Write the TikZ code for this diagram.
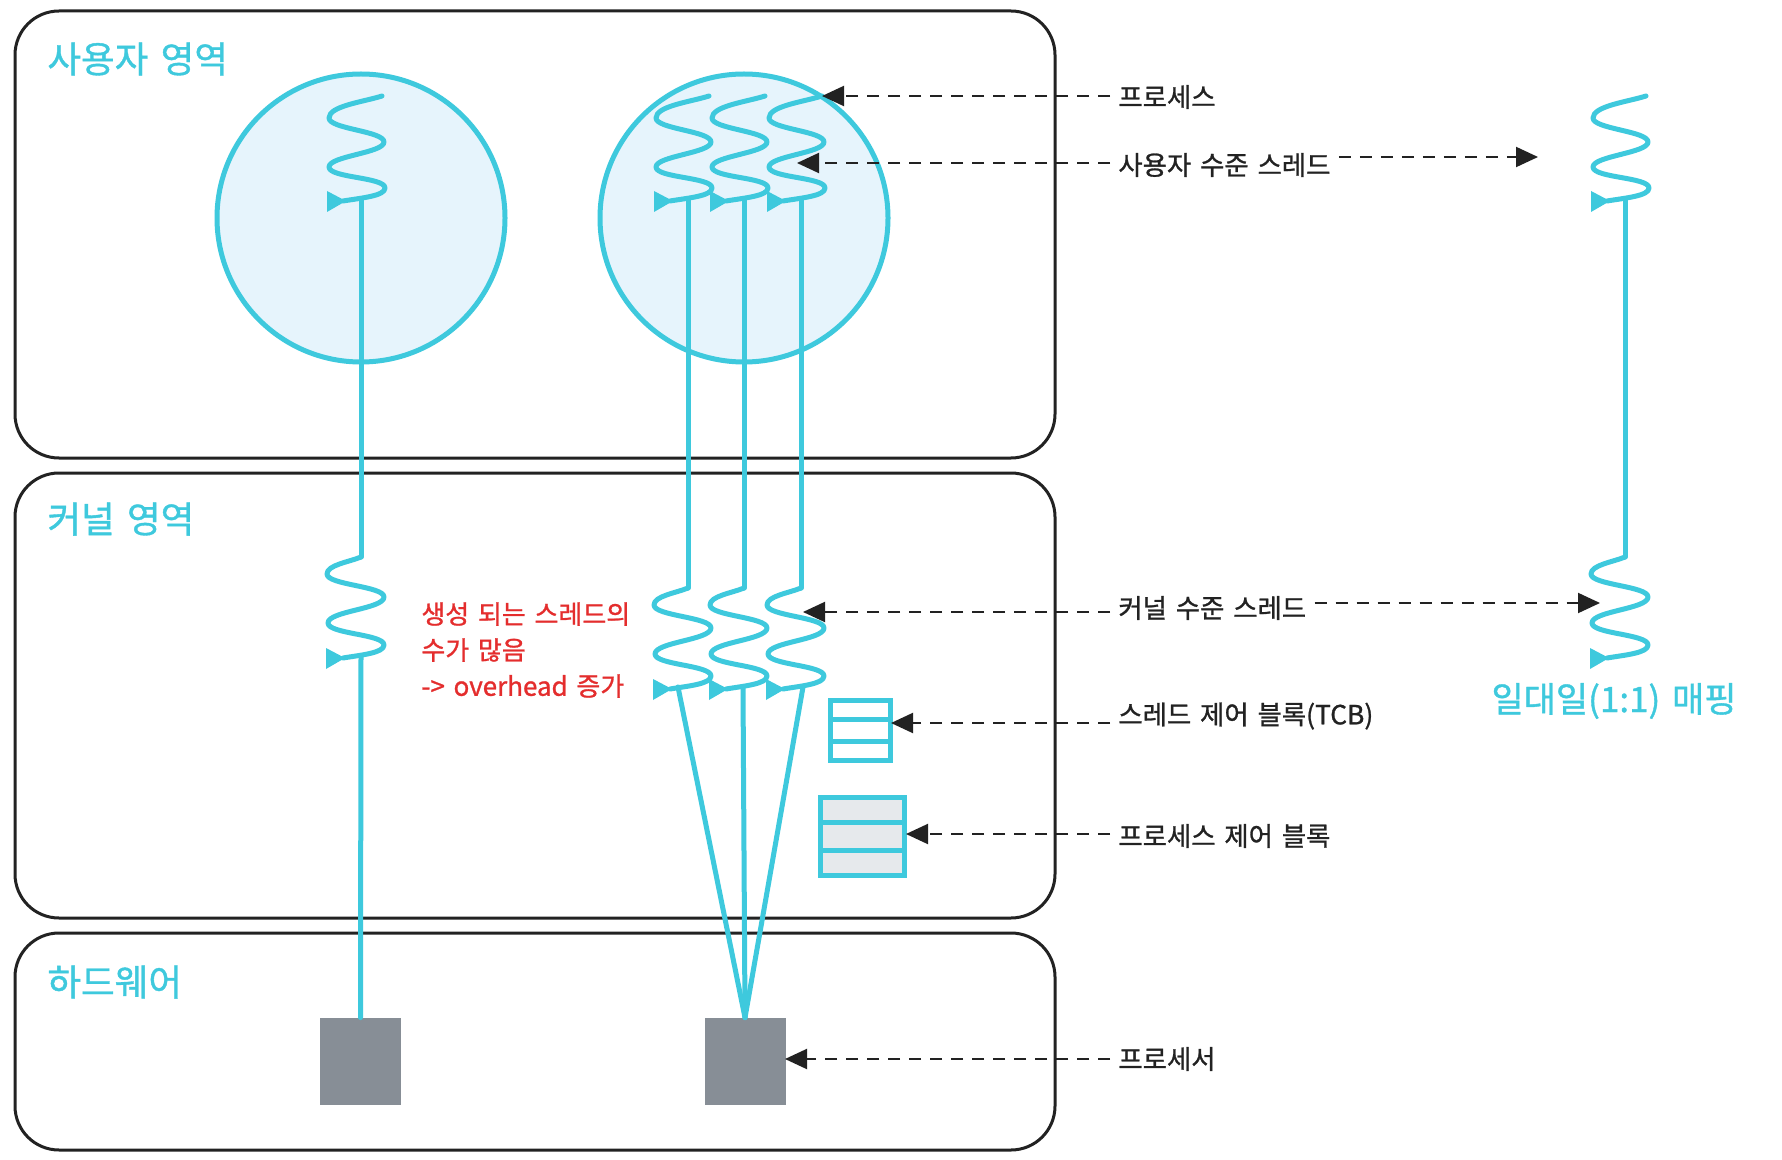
\documentclass[tikz,border=0pt]{standalone}
\usepackage{fontspec}
\newfontfamily\kr[WordSpace=1.5, FakeBold=1.0]{Noto Sans CJK KR}
\usetikzlibrary{arrows.meta,calc}
\definecolor{cy}{RGB}{62,201,221}
\definecolor{cfill}{RGB}{230,244,252}
\definecolor{procg}{RGB}{135,142,150}
\definecolor{pcbg}{RGB}{230,233,236}
\definecolor{redt}{RGB}{228,45,45}
\definecolor{ink}{RGB}{34,34,34}
\tikzset{
  thr/.style={draw=cy, line width=2.5pt, line cap=round, line join=round},
  area/.style={draw=ink, line width=1.5pt, rounded corners=22pt},
  lbl/.style={anchor=west, inner xsep=4pt, inner ysep=0pt, text=ink, font=\kr\fontsize{13.2}{16}\selectfont},
  arealbl/.style={anchor=west, inner sep=0pt, text=cy, font=\kr\fontsize{18.3}{22}\selectfont},
  darr/.style={draw=ink, line width=1pt, dash pattern=on 6pt off 4.5pt, -{Triangle[length=11pt,width=10pt,fill=ink]}},
  procbox/.style={rectangle, fill=procg, minimum width=40.5pt, minimum height=43.5pt, inner sep=0pt},
  blk/.style={rectangle, draw=cy, line width=2.5pt, inner sep=0pt}
}
\newcommand{\uthr}[3]{%
\begin{scope}[shift={(#2,#3)}]
\draw[thr] (21,0) .. controls (2,6) and (-32,10) .. (-32,22)
  .. controls (-32,33) and (23,35) .. (23,46)
  .. controls (23,57) and (-32,60) .. (-32,71)
  .. controls (-32,82) and (24,81) .. (24,92)
  .. controls (24,100) and (0,102) .. (-18,105);
\fill[cy] (-34,95) -- (-34,116) -- (-15,105) -- cycle;
\coordinate (#1) at (0,103);
\end{scope}}
\newcommand{\kthr}[5]{%
\begin{scope}[shift={(#3,#4)}]
\draw[thr] (0,0) .. controls (-12,5) and (-34,8) .. (-34,17)
  .. controls (-34,28) and (23,29) .. (23,40)
  .. controls (23,52) and (-33,54) .. (-33,66)
  .. controls (-33,77) and (23,77) .. (23,88)
  .. controls (23,96) and (0,98) .. (-18,101);
\fill[cy] (-35,91) -- (-35,112) -- (-16,101) -- cycle;
\coordinate (#1) at (0,0);
\coordinate (#2) at (#5,99);
\end{scope}}
\begin{document}
\begin{tikzpicture}[x=0.5pt,y=-0.5pt]
\useasboundingbox (0,0) rectangle (1782,1160);
\fill[white] (0,0) rectangle (1782,1160);

% areas
\draw[area] (15,11) rectangle (1055,458);
\draw[area] (15,473) rectangle (1055,918);
\draw[area] (15,933) rectangle (1055,1150);
\node[arealbl] (aU) at (47,59) {사용자 영역};
\node[arealbl] (aK) at (47,519) {커널 영역};
\node[arealbl] (aH) at (47,982) {하드웨어};

% processes (circles)
\node[circle, draw=cy, fill=cfill, line width=2.5pt, minimum size=144pt, inner sep=0pt] (c1) at (361,218) {};
\node[circle, draw=cy, fill=cfill, line width=2.5pt, minimum size=144pt, inner sep=0pt] (c2) at (744,218) {};

% processors
\node[procbox] (p1) at (360.5,1061.5) {};
\node[procbox] (p2) at (745,1061.5) {};

% threads: left process
\uthr{u1}{361}{96}
\kthr{k1t}{k1b}{361}{557}{0}
\draw[thr] (u1) -- (k1t);
\draw[thr] (k1b) -- (p1.north);

% threads: right process
\uthr{u2}{688}{96}
\uthr{u3}{744}{96}
\uthr{u4}{801}{96}
\kthr{k2t}{k2b}{688}{588}{-10}
\kthr{k3t}{k3b}{744}{588}{-1}
\kthr{k4t}{k4b}{801}{588}{2}
\draw[thr] (u2) -- (k2t);
\draw[thr] (u3) -- (k3t);
\draw[thr] (u4) -- (k4t);
\draw[thr] (k2b) -- (p2.north);
\draw[thr] (k3b) -- (p2.north);
\draw[thr] (k4b) -- (p2.north);

% one-to-one mapping
\uthr{u5}{1625}{96}
\kthr{k5t}{k5b}{1625}{557}{0}
\draw[thr] (u5) -- (k5t);
\node[text=cy, font=\kr\fontsize{17.5}{21}\selectfont, inner sep=0pt] (map) at (1614,701) {일대일(1:1) 매핑};

% TCB and PCB
\node[blk, fill=white, minimum width=30pt, minimum height=30pt] (tcb) at (860.5,730.5) {};
\draw[cy, line width=2.5pt] ($(tcb.north west)!1/3!(tcb.south west)$) -- ($(tcb.north east)!1/3!(tcb.south east)$);
\draw[cy, line width=2.5pt] ($(tcb.north west)!2/3!(tcb.south west)$) -- ($(tcb.north east)!2/3!(tcb.south east)$);
\node[blk, fill=pcbg, minimum width=42pt, minimum height=39pt] (pcb) at (862.5,836.5) {};
\draw[cy, line width=2.5pt] ($(pcb.north west)!1/3!(pcb.south west)$) -- ($(pcb.north east)!1/3!(pcb.south east)$);
\draw[cy, line width=2.5pt] ($(pcb.north west)!2/3!(pcb.south west)$) -- ($(pcb.north east)!2/3!(pcb.south east)$);

% note
\node[anchor=west, inner sep=0pt, align=left, text=redt, font=\kr\fontsize{13}{18}\selectfont] (note) at (421,650) {생성 되는 스레드의\\수가 많음\\-> overhead 증가};

% legend labels
\node[lbl] (lP) at (1110,97) {프로세스};
\node[lbl] (lU) at (1110,165) {사용자 수준 스레드};
\node[lbl] (lK) at (1110,608) {커널 수준 스레드};
\node[lbl] (lT) at (1110,716) {스레드 제어 블록(TCB)};
\node[lbl] (lB) at (1110,836) {프로세스 제어 블록};
\node[lbl] (lR) at (1110,1059) {프로세서};

% arrow targets
\coordinate (tP) at (822,96);
\coordinate (tU) at (797,163);
\coordinate (tUR) at (1538,157);
\coordinate (tK) at (803,612);
\coordinate (tKR) at (1600,603);
\coordinate (tT) at (891,723);
\coordinate (tB) at (906,834);
\coordinate (tR) at (785,1059);

\draw[darr] (lP.west |- tP) -- (tP);
\draw[darr] (lU.west |- tU) -- (tU);
\draw[darr] (lU.east |- tUR) -- (tUR);
\draw[darr] (lK.west |- tK) -- (tK);
\draw[darr] (lK.east |- tKR) -- (tKR);
\draw[darr] (lT.west |- tT) -- (tT);
\draw[darr] (lB.west |- tB) -- (tB);
\draw[darr] (lR.west |- tR) -- (tR);
\end{tikzpicture}
\end{document}
